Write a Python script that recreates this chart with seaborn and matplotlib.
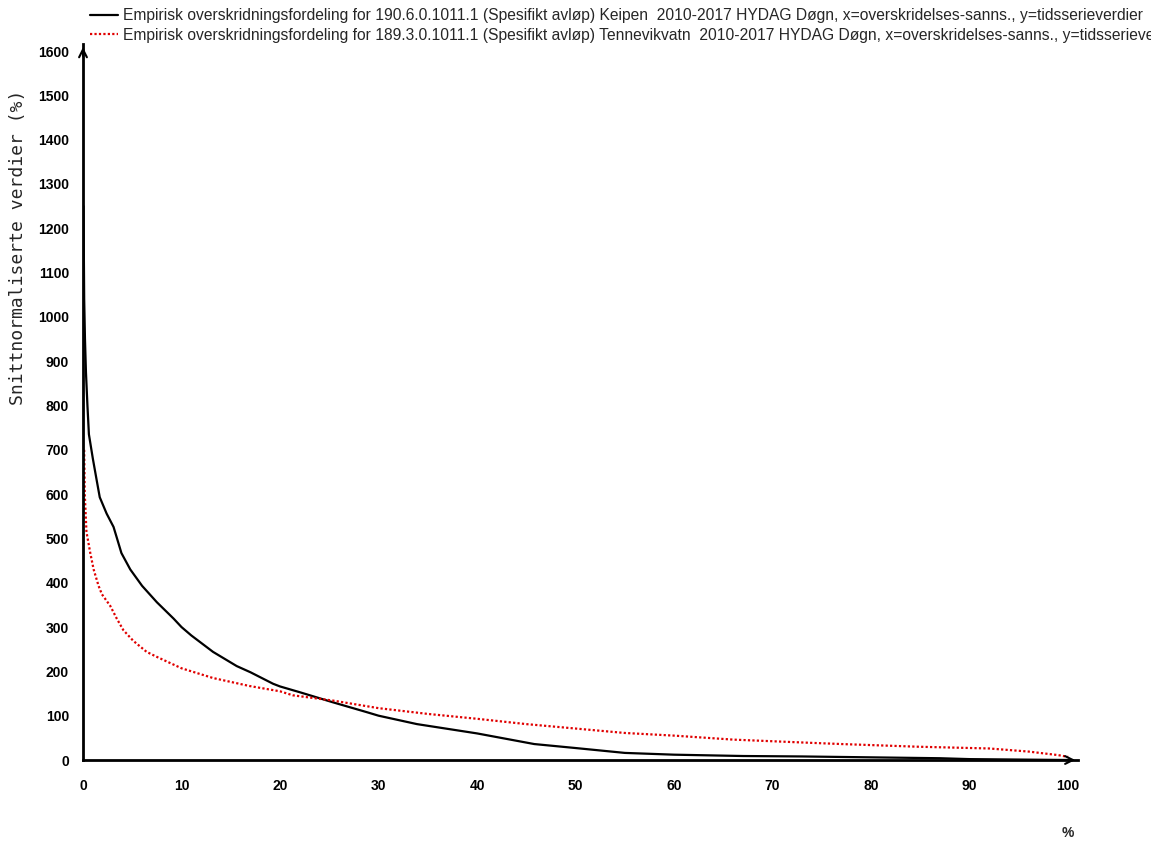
import seaborn as sns
import matplotlib.pyplot as plt
import pandas as pd

# Overskridelsesprosent (x) og snittnormaliserte verdier (y)
keipen_x = [0.05, 0.12, 0.2, 0.3, 0.45, 0.6, 1.0, 1.4, 1.7, 2.4, 3.1, 3.4, 3.9, 4.8, 6.0, 7.5,
            9.2, 10, 11, 13.2, 15.6, 17, 19.3, 20, 22, 25.4, 28.8, 30, 33.9, 40, 45.8, 50,
            55, 60, 67, 73, 80, 87, 90, 100]
keipen_y = [1250, 1040, 950, 875, 800, 735, 680, 630, 593, 556, 526, 504, 467, 430, 393, 356,
            319, 300, 281, 244, 212, 198, 172, 166, 153, 130, 108, 100, 81, 60, 36, 27,
            16, 12, 9, 8, 6, 4, 2, 0]

tennevik_x = [0.12, 0.18, 0.35, 0.74, 1.08, 1.58, 1.92, 2.76, 3.43, 4.1, 5.1, 6.46, 7.47, 10, 13.2,
              16.9, 20, 21.3, 25.4, 30, 35, 40, 45, 50, 55, 60, 66, 73.6, 77, 84.7, 92, 96,
              99, 100]
tennevik_y = [700, 600, 515, 467, 430, 393, 374, 348, 319, 293, 269, 244, 233, 207, 185,
              167, 155, 146, 134, 117, 104, 93, 81, 71, 61, 55, 46, 39, 36, 30, 26, 19,
              11, 7]

label_keipen = ("Empirisk overskridningsfordeling for 190.6.0.1011.1 (Spesifikt avløp) Keipen  "
                "2010-2017 HYDAG Døgn, x=overskridelses-sanns., y=tidsserieverdier")
label_tennevik = ("Empirisk overskridningsfordeling for 189.3.0.1011.1 (Spesifikt avløp) Tennevikvatn  "
                  "2010-2017 HYDAG Døgn, x=overskridelses-sanns., y=tidsserieverdier")

y_ticks = list(range(0, 1700, 100))
x_ticks = list(range(0, 110, 10))

df_k = pd.DataFrame({'x': keipen_x, 'y': keipen_y})
df_t = pd.DataFrame({'x': tennevik_x, 'y': tennevik_y})

sns.set_style('white')
plt.rcParams['font.family'] = ['Liberation Sans', 'DejaVu Sans']

fig = plt.figure(figsize=(11.51, 8.41), dpi=100)
ax = fig.add_axes([83 / 1151, 81 / 841, 995 / 1151, 715.6 / 841])

sns.lineplot(data=df_k, x='x', y='y', color='black', linewidth=1.6, estimator=None,
             label=label_keipen, ax=ax)
sns.lineplot(data=df_t, x='x', y='y', color='#e00000', linewidth=1.6, estimator=None,
             linestyle=(0, (1, 1)), label=label_tennevik, ax=ax)

ax.set_xlim(0, 101)
ax.set_ylim(0, 1615)
ax.set_xticks(x_ticks)
ax.set_yticks(y_ticks)
ax.set_xticklabels([str(v) for v in x_ticks], fontweight='bold', fontsize=10)
ax.set_yticklabels([str(v) for v in y_ticks], fontweight='bold', fontsize=10)
ax.tick_params(axis='x', direction='out', length=5, width=2, pad=9, colors='black')
ax.tick_params(axis='y', direction='out', length=5, width=1.5, pad=5, colors='black')
ax.set_xlabel('')
ax.set_ylabel('')

for s in ['top', 'right']:
    ax.spines[s].set_visible(False)
for s in ['left', 'bottom']:
    ax.spines[s].set_linewidth(2)
    ax.spines[s].set_color('black')

# åpne pilspisser på aksene
ax.annotate('', xy=(1.0, 0), xytext=(0.985, 0), xycoords='axes fraction',
            arrowprops=dict(arrowstyle='->', lw=1.5, color='black', mutation_scale=14))
ax.annotate('', xy=(0, 1.0), xytext=(0, 0.98), xycoords='axes fraction',
            arrowprops=dict(arrowstyle='->', lw=1.5, color='black', mutation_scale=14))

ax.legend(loc='upper left', bbox_to_anchor=(90 / 1151, 1 - 8 / 841), bbox_transform=fig.transFigure,
          frameon=False, fontsize=11.25, handlelength=1.8, handletextpad=0.3,
          labelspacing=0.3, borderpad=0, borderaxespad=0)

fig.text(18 / 1151, 1 - 247 / 841, 'Snittnormaliserte verdier (%)', rotation=90,
         ha='center', va='center', fontsize=13, family='DejaVu Sans Mono')
fig.text(1068 / 1151, 1 - 833 / 841, '%', ha='center', va='center', fontsize=10,
         fontweight='bold')

plt.savefig('out.png', dpi=100)
